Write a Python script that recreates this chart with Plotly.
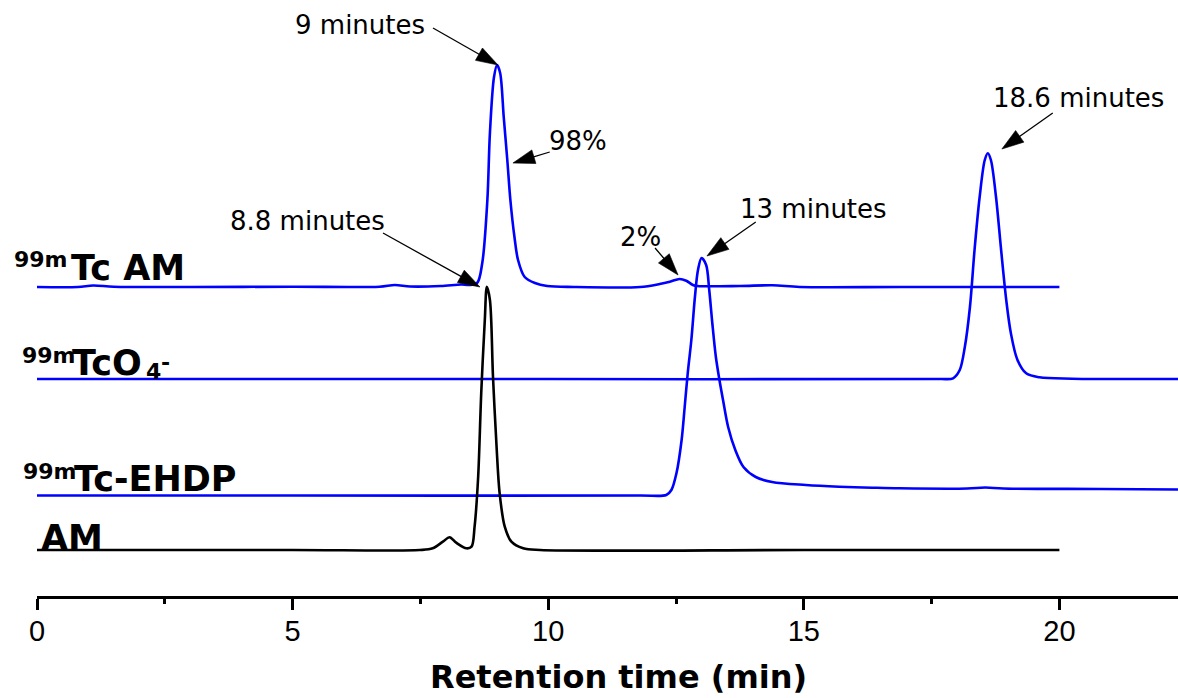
import plotly.graph_objects as go

# Radio-HPLC chromatograms: retention time (min) vs detector signal (a.u.)
tc_am_time = [0, 0.8, 1.1, 1.5, 3.0, 5.0, 6.7, 7.0, 7.3, 7.9, 8.3, 8.45, 8.61, 8.71,
              8.81, 8.86, 8.94, 9.00, 9.06, 9.13, 9.20, 9.26, 9.34, 9.41, 9.54, 9.74,
              9.98, 10.5, 11.8, 12.18, 12.38, 12.57, 12.70, 12.83, 12.92, 13.75, 14.39,
              14.92, 16.9, 20.0]
tc_am_signal = [0, 0, 1.5, 0.3, 0, 0.3, 0.3, 2, 0.5, 1, 2.5, 2, 4, 24,
                87, 154, 210, 222, 214, 170, 127, 87, 50, 27, 10, 4,
                1, 0, 0, 3, 5.3, 8, 6.3, 2, 1, 1, 1.7,
                0, 0, 0]

tco4_time = [0, 10, 17.66, 17.92, 18.05, 18.15, 18.25, 18.34, 18.44, 18.54, 18.60,
             18.66, 18.76, 18.86, 18.96, 19.05, 19.18, 19.35, 19.61, 20.25, 22.32]
tco4_signal = [0, 0, 0, 0.7, 9, 32, 72, 129, 182, 219, 225.7,
               219, 182, 129, 79, 46, 19, 5.7, 1.7, 0.3, 0]

ehdp_time = [0, 5, 11.79, 12.31, 12.41, 12.51, 12.61, 12.67, 12.73, 12.80, 12.87,
             12.93, 13.00, 13.09, 13.15, 13.21, 13.28, 13.35, 13.42, 13.52, 13.66,
             13.82, 14.06, 14.38, 15.04, 15.69, 16.34, 16.87, 18.2, 18.55, 18.9,
             20.8, 22.32]
ehdp_signal = [0, 0, 0, 0.5, 5.5, 22.5, 55.5, 88.5, 122.5, 155.5, 198.5,
               225.5, 237.5, 230.5, 205.5, 172.5, 138.5, 115.5, 95.5, 68.5, 45.5,
               28.5, 18.5, 13.5, 10.5, 8.8, 7.8, 7.2, 7, 8, 7,
               6.5, 6]

am_time = [0, 5, 7.49, 7.74, 7.94, 8.07, 8.20, 8.40, 8.50, 8.56, 8.63, 8.69, 8.76,
           8.80, 8.86, 8.92, 8.99, 9.05, 9.15, 9.28, 9.51, 9.84, 15, 20]
am_signal = [0, 0, 0, 1.7, 8.3, 12.7, 7.3, 1.7, 3.3, 23.3, 73.3, 157, 230,
             263.3, 250, 173.3, 103.3, 56.7, 23.3, 8.3, 1.7, 0, 0, 0]

# vertical stacking of the chromatograms
OFFSET_TC_AM = 309
OFFSET_TCO4 = 217
OFFSET_EHDP = 100.5
OFFSET_AM = 46

BLUE = "#0000FF"
BLACK = "#000000"
LW = 2.6

fig = go.Figure()


def add_trace(t, s, off, color):
    fig.add_trace(go.Scatter(
        x=t, y=[v + off for v in s], mode="lines",
        line=dict(color=color, width=LW, shape="spline", smoothing=0.9),
        hoverinfo="skip", showlegend=False,
    ))


add_trace(tc_am_time, tc_am_signal, OFFSET_TC_AM, BLUE)
add_trace(tco4_time, tco4_signal, OFFSET_TCO4, BLUE)
add_trace(ehdp_time, ehdp_signal, OFFSET_EHDP, BLUE)
add_trace(am_time, am_signal, OFFSET_AM, BLACK)

# pointer arrows: tail (x, y) -> head (x, y) in axis units
arrows = [
    ((7.746, 568), (9.017, 531)),
    ((10.03, 444), (9.31, 433)),
    ((6.768, 363), (8.665, 309)),
    ((12.09, 348), (12.54, 321)),
    ((14.06, 374), (13.105, 340)),
    ((19.87, 483), (18.875, 447)),
]
for (tx, ty), (hx, hy) in arrows:
    fig.add_trace(go.Scatter(
        x=[tx, hx], y=[ty, hy], mode="lines+markers",
        line=dict(color=BLACK, width=1.3),
        marker=dict(symbol="arrow", size=[0, 23], angleref="previous",
                    color=BLACK, opacity=1, line=dict(width=0.6, color=BLACK)),
        hoverinfo="skip", showlegend=False, cliponaxis=False,
    ))

LABEL_FONT = dict(family="DejaVu Sans", size=35, color="black", weight="bold")
SCRIPT_FONT = dict(family="DejaVu Sans", size=22, color="black", weight="bold")
NOTE_FONT = dict(family="DejaVu Sans", size=26, color="black")

annotations = []

# trace labels: main text, mass-number prefixes and charge/sub indices
# (left edge in paper units, vertical centre in signal units)
for text, x, y, font in [
    ("99m", -0.0219, 336.1, SCRIPT_FONT),
    ("Tc AM", 0.0281, 327.7, LABEL_FONT),
    ("99m", -0.0149, 240.5, SCRIPT_FONT),
    ("TcO", 0.0289, 232.6, LABEL_FONT),
    ("4", 0.0938, 225, SCRIPT_FONT),
    ("-", 0.1069, 233.5, SCRIPT_FONT),
    ("99m", -0.0140, 124.5, SCRIPT_FONT),
    ("Tc-EHDP", 0.0307, 117.5, LABEL_FONT),
    ("AM", 0.0018, 58.5, LABEL_FONT),
]:
    annotations.append(dict(text=text, x=x, y=y, xref="paper", yref="y",
                            xanchor="left", yanchor="middle", showarrow=False,
                            font=font))

# peak notes
for text, x, y, anchor in [
    ("9 minutes", 7.63, 571, "right"),
    ("98%", 9.98, 455, "left"),
    ("8.8 minutes", 6.85, 375, "right"),
    ("2%", 11.36, 359, "left"),
    ("13 minutes", 13.72, 387, "left"),
    ("18.6 minutes", 18.66, 498.5, "left"),
]:
    annotations.append(dict(text=text, x=x, y=y, xref="x", yref="y",
                            xanchor=anchor, yanchor="middle", showarrow=False,
                            font=NOTE_FONT))

# axis title
annotations.append(dict(text="Retention time (min)", x=0.5096, y=-0.1711,
                        xref="paper", yref="paper", xanchor="center",
                        yanchor="bottom", showarrow=False,
                        font=dict(family="DejaVu Sans", size=32, color="black",
                                  weight="bold")))

fig.update_layout(
    width=1178, height=698,
    margin=dict(l=37, r=0, t=0, b=102, pad=0),
    paper_bgcolor="white", plot_bgcolor="white",
    annotations=annotations,
    xaxis=dict(
        range=[0, 22.32], showgrid=False, zeroline=False,
        showline=True, linecolor="black", linewidth=2.5,
        ticks="outside", ticklen=11, tickwidth=2.5, tickcolor="black",
        tick0=0, dtick=5, ticklabelstandoff=-4,
        tickfont=dict(family="Liberation Sans, Arial", size=29, color="black"),
        minor=dict(ticks="outside", ticklen=5, tickwidth=2.5, tickcolor="black",
                   dtick=2.5, tick0=0, showgrid=False),
    ),
    yaxis=dict(visible=False, range=[0, 596], fixedrange=True),
)

fig.write_html("out.html")
